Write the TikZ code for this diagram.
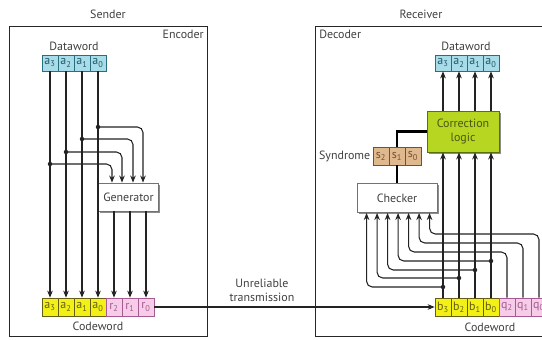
\documentclass[tikz,border=0pt]{standalone}
\usepackage{fontspec}
\setmainfont{PT Sans}
\usetikzlibrary{arrows.meta, calc, shadows}
\definecolor{datablue}{RGB}{168, 220, 232}
\definecolor{dataline}{RGB}{40, 110, 130}
\definecolor{codeyellow}{RGB}{242, 240, 20}
\definecolor{codeline}{RGB}{100, 95, 20}
\definecolor{checkpink}{RGB}{246, 204, 232}
\definecolor{checkline}{RGB}{165, 90, 145}
\definecolor{syntan}{RGB}{224, 184, 142}
\definecolor{synline}{RGB}{115, 80, 50}
\definecolor{corrgreen}{RGB}{182, 214, 34}
\definecolor{corrline}{RGB}{90, 110, 20}
\definecolor{wiregray}{RGB}{35, 35, 35}

\begin{document}
\begin{tikzpicture}[x=0.025cm, y=-0.025cm,
      every node/.style={font=\fontsize{8.5}{10}\selectfont, text=black!75},
      frame/.style={rectangle, draw=black!85, line width=0.7pt, fill=white, minimum height=7.725cm,
        drop shadow={shadow xshift=1pt, shadow yshift=-1pt, fill=black!70, opacity=1}},
      unit/.style={rectangle, draw=black!55, fill=white, line width=0.6pt,
        drop shadow={shadow xshift=1.2pt, shadow yshift=-1.2pt, fill=black!45, opacity=1}},
      cell/.style={rectangle, line width=0.5pt, minimum width=0.4cm, inner sep=0pt, font=\fontsize{8.5}{9}\selectfont},
      data/.style={cell, fill=datablue, draw=dataline, text=dataline!80!black, minimum height=0.4cm},
      code/.style={cell, fill=codeyellow, draw=codeline, text=codeline, minimum height=0.45cm},
      redun/.style={cell, fill=checkpink, draw=checkline, text=checkline, minimum height=0.45cm},
      syn/.style={cell, fill=syntan, draw=synline, text=synline, minimum height=0.45cm},
      arr/.style={-{Stealth[length=5pt, width=4pt]}, line width=0.75pt, wiregray},
      bus/.style={line width=2pt, black},
      dot/.style={wiregray}
    ]
      \useasboundingbox (0,0) rectangle (542,340);

      % frames
      \node[frame, minimum width=4.925cm] (enc) at (108.5,181.5) {};
      \node[frame, minimum width=6.1cm] (dec) at (438,181.5) {};
      \node (sender) at (108,14) {Sender};
      \node (receiver) at (421,14) {Receiver};
      \node[anchor=north east, inner sep=2.5pt] (enclbl) at (enc.north east) {Encoder};
      \node[anchor=north west, inner sep=2.5pt] (declbl) at (dec.north west) {Decoder};

      % sender side
      \node (dwsend) at (74,46) {Dataword};
      \foreach \b [count=\i from 0] in {3,2,1,0}
        \node[data] (ea\b) at (50+16*\i,63) {a\textsubscript{\b}};
      \foreach \b [count=\i from 0] in {3,2,1,0}
        \node[code] (ca\b) at (50+16*\i,307) {a\textsubscript{\b}};
      \foreach \b [count=\i from 4] in {2,1,0}
        \node[redun] (cr\b) at (50+16*\i,307) {r\textsubscript{\b}};
      \node (cwsend) at (98,326) {Codeword};
      \node[unit, minimum width=1.325cm, minimum height=0.7cm] (gen) at (128.5,197) {Generator};

      \foreach \b in {3,2,1,0}
        \draw[arr] (ea\b.south) -- (ca\b.north);
      \foreach \b/\y/\x in {0/127/143, 1/139/133, 2/152/122, 3/164/112} {
        \coordinate (ej\b) at (ea\b.south |- 0,\y);
        \draw[arr, rounded corners=4pt] (ej\b) -| (gen.north -| \x,0);
        \fill[dot] (ej\b) circle (1.6pt);
      }
      \foreach \b in {2,1,0}
        \draw[arr] (gen.south -| cr\b.north) -- (cr\b.north);

      % receiver side
      \node (dwrecv) at (466,46) {Dataword};
      \foreach \b [count=\i from 0] in {3,2,1,0}
        \node[data] (ra\b) at (443+16*\i,63) {a\textsubscript{\b}};
      \foreach \b [count=\i from 0] in {3,2,1,0}
        \node[code] (cb\b) at (443+16*\i,307) {b\textsubscript{\b}};
      \foreach \b [count=\i from 4] in {2,1,0}
        \node[redun] (cq\b) at (443+16*\i,307) {q\textsubscript{\b}};
      \node (cwrecv) at (490,327) {Codeword};
      \node[unit, fill=corrgreen, draw=corrline, minimum width=1.8cm, minimum height=1.025cm,
        align=center, text=corrline!80!black] (corr) at (463,131.5) {Correction\\logic};
      \node[unit, minimum width=2cm, minimum height=0.73cm] (chk) at (397,198) {Checker};
      \foreach \b [count=\i from 0] in {2,1,0}
        \node[syn] (s\b) at (381+16*\i,156) {s\textsubscript{\b}};
      \node[anchor=east, inner sep=1.5pt] (synlbl) at (s2.west) {Syndrome};

      \draw[bus] (s1.south) -- (chk.north);
      \draw[bus] (s1.north) |- (corr.west);
      \foreach \b in {3,2,1,0} {
        \draw[arr] (cb\b.north) -- (corr.south -| cb\b.north);
        \draw[arr] (corr.north -| ra\b.south) -- (ra\b.south);
      }
      \foreach \k in {0,...,6}
        \coordinate (ci\k) at ($(chk.south west)+(10+10.5*\k,0)$);
      \foreach \b/\y/\k in {3/287/0, 2/278/1, 1/270/2, 0/261/3} {
        \coordinate (dj\b) at (cb\b.north |- 0,\y);
        \draw[arr, rounded corners=4pt] (dj\b) -| (ci\k);
        \fill[dot] (dj\b) circle (1.6pt);
      }
      \foreach \b/\y/\k in {2/252/4, 1/243/5, 0/234/6}
        \draw[arr, rounded corners=4pt] (cq\b.north) -- (cq\b.north |- 0,\y) -| (ci\k);

      % channel
      \draw[arr] (cr0.east) -- (cb3.west);
      \node[align=center] (chan) at (262,290) {Unreliable\\transmission};
    \end{tikzpicture}
\end{document}
